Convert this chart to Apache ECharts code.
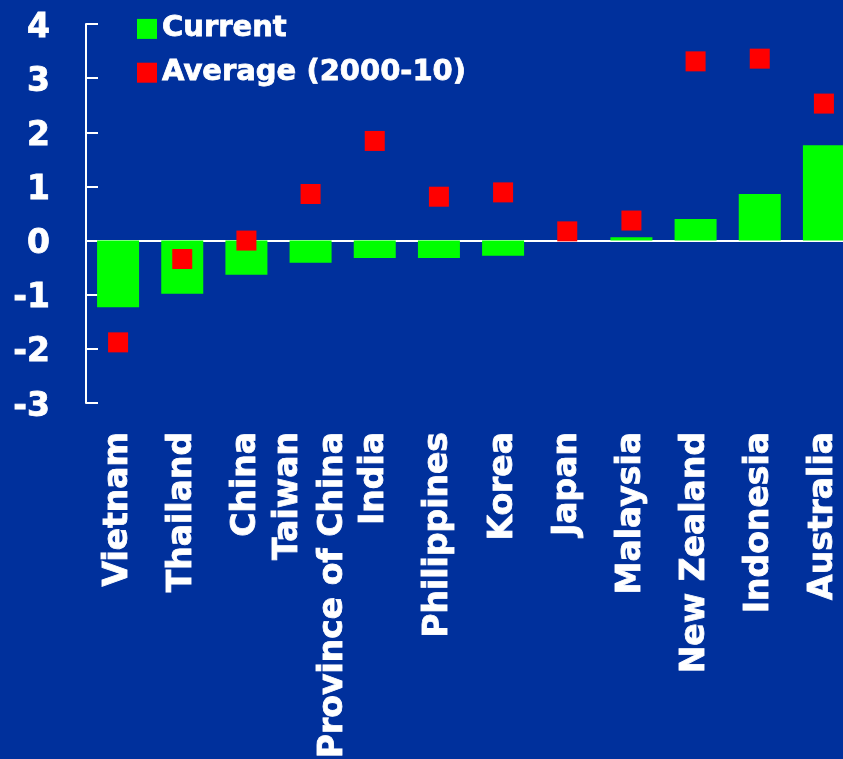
<!DOCTYPE html>
<html>
<head>
<meta charset="utf-8">
<script src="https://cdn.jsdelivr.net/npm/echarts@6/dist/echarts.min.js"></script>
<style>
  html, body { margin: 0; padding: 0; background: #00309c; overflow: hidden; }
  /* the last category runs past the right edge in the reference, so the canvas is wider than the window */
  #chart { width: 860px; height: 759px; }
</style>
</head>
<body>
<div id="chart"></div>
<script>
const countries = ["Vietnam", "Thailand", "China", "Taiwan\nProvince of China", "India", "Philippines",
  "Korea", "Japan", "Malaysia", "New Zealand", "Indonesia", "Australia"]
const current = [-1.23, -0.98, -0.63, -0.41, -0.32, -0.32, -0.28, 0.0, 0.06, 0.4, 0.86, 1.76]
const average = [-1.88, -0.34, 0.0, 0.86, 1.84, 0.81, 0.89, 0.17, 0.37, 3.31, 3.36, 2.53]
const yTicks = [-3, -2, -1, 0, 1, 2, 3, 4]

const font = "'DejaVu Sans', Verdana, sans-serif"
// thin white outline makes DejaVu Bold look as heavy as the original Tahoma Bold
const heavy = { color: "#fff", fontWeight: "bold", fontFamily: font, textBorderColor: "#fff", textBorderWidth: 0.8 }

const chart = echarts.init(document.getElementById("chart"))

chart.setOption({
  backgroundColor: "#00309c",
  animation: false,
  textStyle: { fontFamily: font },
  legend: {
    orient: "vertical",
    left: 137,
    top: 14,
    padding: 0,
    itemWidth: 20,
    itemHeight: 20,
    itemGap: 14,
    textStyle: { ...heavy, fontSize: 29 },
    data: [
      { name: "Current", icon: "rect" },
      { name: "Average (2000-10)", icon: "rect" },
    ],
  },
  grid: { left: 86, top: 24, width: 770, height: 379, outerBoundsMode: "none" },
  xAxis: [
    {
      type: "category",
      data: countries,
      axisLine: { onZero: true, lineStyle: { color: "#fff", width: 2 } },
      axisTick: { inside: true, length: 12, lineStyle: { color: "#fff", width: 2 } },
      axisLabel: { show: false },
    },
    {
      type: "category",
      data: countries,
      position: "bottom",
      axisLine: { show: false, onZero: false },
      axisTick: { show: false },
      axisLabel: {
        ...heavy,
        rotate: 90,
        margin: 29,
        interval: 0,
        fontSize: 33,
        lineHeight: 45,
      },
    },
  ],
  yAxis: {
    type: "value",
    min: yTicks[0],
    max: yTicks[yTicks.length - 1],
    interval: 1,
    splitLine: { show: false },
    axisLine: { show: true, lineStyle: { color: "#fff", width: 2 } },
    axisTick: { show: true, inside: true, length: 12, lineStyle: { color: "#fff", width: 2 } },
    axisLabel: {
      margin: 36,
      formatter: (v) => "{v|" + v + "}",
      rich: { v: { ...heavy, fontSize: 33, padding: [8, 0, 0, 0] } },
    },
  },
  series: [
    {
      name: "Current",
      type: "bar",
      xAxisIndex: 0,
      barWidth: 42,
      data: current,
      itemStyle: { color: "#00ff00" },
    },
    {
      name: "Average (2000-10)",
      type: "scatter",
      xAxisIndex: 0,
      symbol: "rect",
      symbolSize: 20,
      data: average,
      itemStyle: { color: "#ff0000", opacity: 1 },
      z: 5,
    },
  ],
})
</script>
</body>
</html>
